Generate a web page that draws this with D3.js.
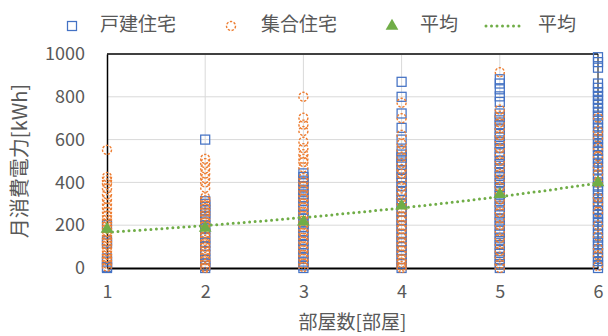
<!DOCTYPE html>
<html>
<head>
<meta charset="utf-8">
<script src="https://cdn.jsdelivr.net/npm/d3@7"></script>
<style>
  body { margin: 0; background: #fff; }
  text { font-family: "Noto Sans CJK JP", "Noto Sans", sans-serif; fill: #595959; }
</style>
</head>
<body>
<div id="chart"></div>
<script>
// rooms on x axis
const rooms = [1, 2, 3, 4, 5, 6];
const yTicks = [0, 200, 400, 600, 800, 1000];

// 戸建住宅 monthly kWh, one list per room count
const detached = [
  [0, 5, 30, 45, 115, 125, 200],
  [600, 312, 300, 286, 270, 255, 238, 222, 200, 186, 162, 140, 118, 102, 80, 62, 40, 22, 10, 0],
  [442, 425, 408, 396, 380, 362, 344, 330, 312, 288, 272, 250, 232, 208, 190, 172, 150, 128, 112, 90, 68, 52, 30, 12, 0],
  [870, 800, 722, 655, 600, 548, 530, 516, 498, 482, 458, 440, 422, 398, 382, 360, 342, 318, 302, 280, 262, 238, 222, 198, 182, 158, 140, 122, 98, 82, 60, 42, 20, 0],
  [882, 862, 835, 802, 776, 722, 704, 690, 668, 652, 630, 612, 596, 578, 560, 542, 520, 502, 486, 466, 448, 430, 412, 396, 378, 360, 340, 322, 306, 288, 270, 250, 232, 216, 198, 180, 160, 142, 126, 108, 90, 70, 52, 36, 18, 0],
  [985, 962, 936, 862, 842, 822, 804, 786, 768, 748, 730, 712, 694, 676, 656, 638, 620, 602, 584, 566, 548, 528, 510, 492, 474, 456, 436, 418, 400, 380, 362, 344, 326, 308, 290, 270, 252, 234, 216, 198, 180, 160, 142, 124, 106, 88, 70, 50, 32, 14, 0]
];

// 集合住宅 monthly kWh, one list per room count
const apartment = [
  [552, 425, 410, 395, 372, 345, 322, 300, 282, 262, 245, 230, 214, 200, 186, 170, 154, 140, 126, 110, 96, 80, 64, 50, 36, 20, 6],
  [510, 490, 465, 442, 420, 400, 375, 330, 316, 296, 280, 264, 250, 232, 214, 200, 182, 164, 150, 132, 116, 100, 84, 70, 52, 36, 20, 6, 0],
  [800, 702, 670, 640, 590, 560, 532, 510, 495, 470, 420, 402, 380, 362, 340, 322, 300, 282, 260, 242, 220, 202, 180, 162, 140, 122, 100, 82, 60, 42, 20, 5],
  [772, 700, 622, 580, 552, 520, 490, 462, 440, 412, 380, 352, 330, 302, 280, 262, 240, 222, 200, 182, 160, 142, 120, 102, 80, 62, 40, 25, 10, 0],
  [915, 740, 712, 680, 652, 620, 592, 560, 532, 500, 472, 440, 412, 380, 352, 320, 292, 260, 232, 200, 172, 140, 112, 80, 52, 20, 0],
  [702, 640, 610, 560, 522, 472, 440, 400, 330, 302, 262, 200, 150, 92, 60, 10]
];

// 平均 per room count
const averages = [182, 186, 216, 290, 344, 399];

const legendLabels = ['戸建住宅', '集合住宅', '平均', '平均'];

const config = {
  width: 608,
  height: 336,
  margin: {top: 54, right: 10, bottom: 68, left: 107}
};
const innerW = config.width - config.margin.left - config.margin.right;
const innerH = config.height - config.margin.top - config.margin.bottom;

const svg = d3.select('#chart').append('svg')
    .attr('width', config.width)
    .attr('height', config.height);

const chart = svg.append('g')
    .attr('transform', `translate(${config.margin.left},${config.margin.top})`);

const xScale = d3.scaleLinear().domain([1, 6]).range([0, innerW]);
const yScale = d3.scaleLinear().domain([0, 1000]).range([innerH, 0]);

// gridlines
chart.append('g').selectAll('line')
    .data(yTicks.filter(d => d > 0 && d < 1000))
  .join('line')
    .attr('x1', 0).attr('x2', innerW)
    .attr('y1', d => yScale(d)).attr('y2', d => yScale(d))
    .attr('stroke', '#d9d9d9').attr('stroke-width', 1);

chart.append('g').selectAll('line')
    .data(rooms.filter(d => d > 1 && d < 6))
  .join('line')
    .attr('x1', d => xScale(d)).attr('x2', d => xScale(d))
    .attr('y1', 0).attr('y2', innerH)
    .attr('stroke', '#d9d9d9').attr('stroke-width', 1);

// top and right border
chart.append('line')
    .attr('x1', 0).attr('x2', innerW)
    .attr('y1', yScale(1000)).attr('y2', yScale(1000))
    .attr('stroke', '#404040').attr('stroke-width', 2);
chart.append('line')
    .attr('x1', xScale(6)).attr('x2', xScale(6))
    .attr('y1', 0).attr('y2', innerH)
    .attr('stroke', '#000').attr('stroke-width', 1);

// axes
const yAxis = chart.append('g')
    .call(d3.axisLeft(yScale).tickValues(yTicks).tickFormat(d3.format('d')).tickSize(0).tickPadding(22));
yAxis.select('.domain').attr('stroke', '#000').attr('stroke-width', 1.5);
yAxis.selectAll('text').style('font-size', '18px').attr('fill', '#595959');

const xAxis = chart.append('g')
    .attr('transform', `translate(0,${innerH})`)
    .call(d3.axisBottom(xScale).tickValues(rooms).tickFormat(d3.format('d')).tickSize(0).tickPadding(17));
xAxis.select('.domain').attr('stroke', '#000').attr('stroke-width', 2);
xAxis.selectAll('text').style('font-size', '18px').attr('fill', '#595959');

// flatten the series into points
const detachedPts = detached.flatMap((vals, i) => vals.map(v => ({x: rooms[i], y: v})));
const apartmentPts = apartment.flatMap((vals, i) => vals.map(v => ({x: rooms[i], y: v})));

const sq = 9;
chart.append('g').selectAll('rect')
    .data(detachedPts)
  .join('rect')
    .attr('x', d => xScale(d.x) - sq / 2)
    .attr('y', d => yScale(d.y) - sq / 2)
    .attr('width', sq).attr('height', sq)
    .attr('fill', 'none')
    .attr('stroke', '#4472c4').attr('stroke-width', 1.25);

chart.append('g').selectAll('circle')
    .data(apartmentPts)
  .join('circle')
    .attr('cx', d => xScale(d.x))
    .attr('cy', d => yScale(d.y))
    .attr('r', 4.5)
    .attr('fill', 'none')
    .attr('stroke', '#ed7d31').attr('stroke-width', 1.4)
    .attr('stroke-dasharray', '2.4,1.5');

// exponential trendline fitted to the averages
const lnMean = d3.mean(averages, v => Math.log(v));
const xMean = d3.mean(rooms);
const slope = d3.sum(rooms, (r, i) => (r - xMean) * (Math.log(averages[i]) - lnMean)) /
  d3.sum(rooms, r => (r - xMean) ** 2);
const trend = d3.range(1, 6.01, 0.1).map(x => ({x: x, y: Math.exp(lnMean + slope * (x - xMean))}));

chart.append('path')
    .datum(trend)
    .attr('d', d3.line().x(d => xScale(d.x)).y(d => yScale(d.y)))
    .attr('fill', 'none')
    .attr('stroke', '#70ad47').attr('stroke-width', 3)
    .attr('stroke-linecap', 'round')
    .attr('stroke-dasharray', '0,5.5');

const tri = d3.symbol().type(d3.symbolTriangle).size(70);
chart.append('g').selectAll('path')
    .data(averages)
  .join('path')
    .attr('d', tri)
    .attr('transform', (d, i) => `translate(${xScale(rooms[i])},${yScale(d)})`)
    .attr('fill', '#70ad47');

// axis titles
svg.append('text')
    .attr('x', config.margin.left + innerW / 2)
    .attr('y', 324)
    .attr('text-anchor', 'middle')
    .attr('dominant-baseline', 'middle')
    .style('font-size', '19px')
    .text('部屋数[部屋]');

svg.append('text')
    .attr('transform', `translate(22,${config.margin.top + innerH / 2}) rotate(-90)`)
    .attr('text-anchor', 'middle')
    .attr('dominant-baseline', 'middle')
    .style('font-size', '20px')
    .text('月消費電力[kWh]');

// legend
const legend = svg.append('g').attr('transform', 'translate(0,26)');
legend.append('rect')
    .attr('x', 67.5).attr('y', -4.5).attr('width', sq).attr('height', sq)
    .attr('fill', 'none').attr('stroke', '#4472c4').attr('stroke-width', 1.25);
legend.append('circle')
    .attr('cx', 231).attr('cy', 0).attr('r', 4.5)
    .attr('fill', 'none').attr('stroke', '#ed7d31').attr('stroke-width', 1.4)
    .attr('stroke-dasharray', '2.4,1.5');
legend.append('path')
    .attr('d', tri).attr('transform', 'translate(392,0)').attr('fill', '#70ad47');
legend.append('line')
    .attr('x1', 486).attr('x2', 521).attr('y1', 0).attr('y2', 0)
    .attr('stroke', '#70ad47').attr('stroke-width', 3)
    .attr('stroke-linecap', 'round').attr('stroke-dasharray', '0,5.5');

legend.selectAll('text')
    .data(legendLabels)
  .join('text')
    .attr('x', (d, i) => [100, 261, 420, 538][i])
    .attr('y', 0)
    .attr('dominant-baseline', 'middle')
    .style('font-size', '19px')
    .text(d => d);
</script>
</body>
</html>
